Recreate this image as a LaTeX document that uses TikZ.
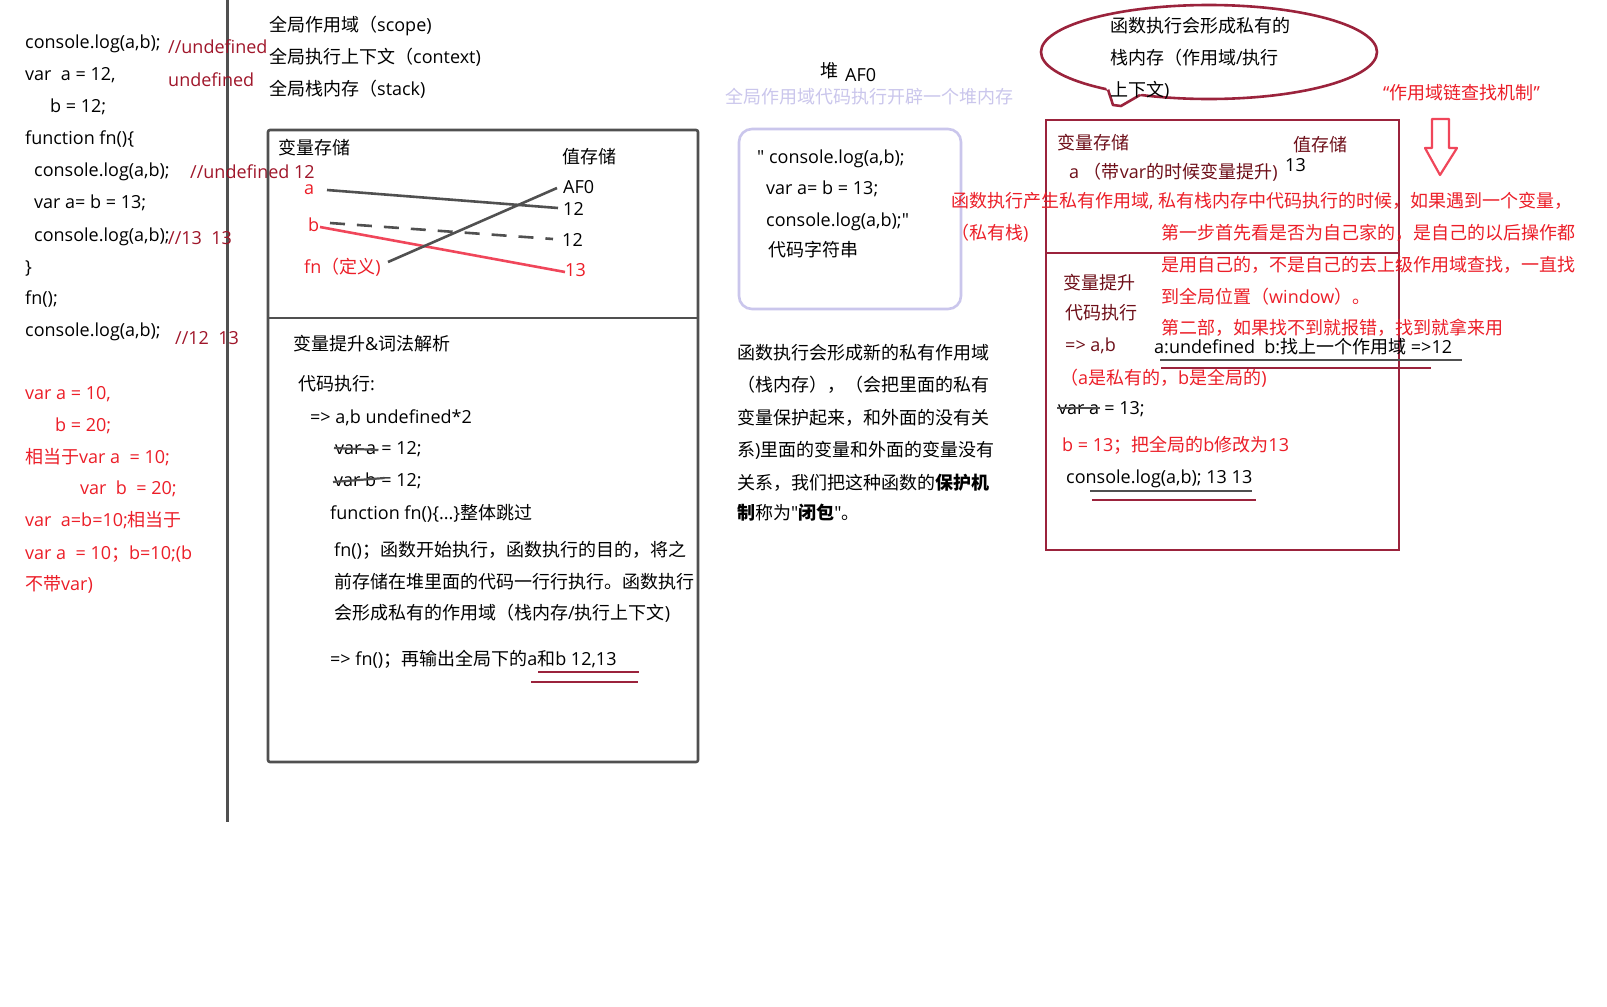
\documentclass[tikz,border=0pt]{standalone}
\usepackage{fontspec}
\setmainfont{Open Sans}[Ligatures=TeXOff]
\newfontfamily\cjkf{Noto Sans CJK SC}
\chardef\cjkcls=7
\newcount\mycnt
\def\setcls#1#2#3{\mycnt=#1 \loop \XeTeXcharclass\mycnt=#3 \advance\mycnt by 1 \ifnum\mycnt<#2 \repeat}
\setcls{32}{127}{0}
\setcls{"2010}{"2030}{0}
\setcls{"3000}{"3040}{\cjkcls}
\setcls{"4E00}{"A000}{\cjkcls}
\setcls{"FF00}{"FFF0}{\cjkcls}
\XeTeXinterchartoks 0 \cjkcls = {\cjkf}
\XeTeXinterchartoks 4095 \cjkcls = {\cjkf}
\XeTeXinterchartoks \cjkcls 0 = {\rmfamily}
\XeTeXinterchartoks \cjkcls 4095 = {\rmfamily}
\XeTeXinterchartokenstate=1
\newcommand\myfs{\fontsize{18}{22}\selectfont}
\newcommand\bcjk[1]{{\bfseries\cjkf #1}\cjkf}
\definecolor{mar}{RGB}{160,22,42}
\definecolor{rd}{RGB}{236,30,40}
\definecolor{dmar}{RGB}{110,15,25}
\definecolor{lav}{RGB}{202,198,236}
\definecolor{skg}{RGB}{80,80,80}
\definecolor{bmar}{RGB}{155,35,60}
\definecolor{pnk}{RGB}{240,70,90}
\tikzset{
 mytx/.style={anchor=west, inner sep=0pt, text height=16pt, text depth=3pt, font=\myfs},
 tblk/.style={mytx, text=black},
 tcmt/.style={mytx, text=mar},
 tred/.style={mytx, text=rd},
 tdm/.style={mytx, text=dmar},
 tlav/.style={mytx, text=lav},
 skline/.style={draw=skg, line width=2.6pt},
 mline/.style={draw=bmar, line width=2.6pt},
 strk/.style={draw=skg, line width=2.2pt},
 uline/.style={line width=2.2pt},
}
\begin{document}
\begin{tikzpicture}[x=1pt,y=-1pt]
\fill[white] (0,0) rectangle (1607,1007);
\useasboundingbox (0,0) rectangle (1607,1007);

% vertical separator
\draw[draw=skg, line width=3pt] (227,0) -- (227,822);

% ---------- left code ----------
\node[tblk] (c1) at (25,42) {console.log(a,b);};
\node[tblk] (c2) at (25,74) {var\ \ a = 12,};
\node[tblk] (c3) at (50,106) {b = 12;};
\node[tblk] (c4) at (25,138) {function fn()\{};
\node[tblk] (c5) at (34,170) {console.log(a,b);};
\node[tblk] (c6) at (34,202) {var a= b = 13;};
\node[tblk] (c7) at (34,235) {console.log(a,b);};
\node[tblk] (c8) at (25,267) {\}};
\node[tblk] (c9) at (25,298) {fn();};
\node[tblk] (c10) at (25,330) {console.log(a,b);};

\node[tcmt] (m1) at (168,47) {//undefined};
\node[tcmt] (m2) at (168,80) {undefined};
\node[tcmt] (m3) at (190,172) {//undefined 12};
\node[tcmt] (m4) at (168,238) {//13\ \ 13};
\node[tcmt] (m5) at (175,338) {//12\ \ 13};

\node[tred] (r1) at (25,393) {var a = 10,};
\node[tred] (r2) at (55,425) {b = 20;};
\node[tred] (r3) at (25,457) {相当于var a\ \ = 10;};
\node[tred] (r4) at (80,488) {var\ \ b\ \ = 20;};
\node[tred] (r5) at (25,520) {var\ \ a=b=10;相当于};
\node[tred] (r6) at (25,553) {var a\ \ = 10；b=10;(b};
\node[tred] (r7) at (25,584) {不带var)};

% ---------- global headers ----------
\node[tblk] (h1) at (269,25) {全局作用域（scope)};
\node[tblk] (h2) at (269,57) {全局执行上下文（context)};
\node[tblk] (h3) at (269,89) {全局栈内存（stack)};

% ---------- big box ----------
\draw[skline, rounded corners=2pt] (268,130) rectangle (698,762);
\draw[skline] (268,318) -- (698,318);

\node[tblk] (s1) at (278,148) {变量存储};
\node[tblk] (s2) at (562,157) {值存储};
\node[tred] (sa) at (304,188) {a};
\node[tred] (sb) at (308,225) {b};
\node[tred] (sfn) at (304,267) {fn（定义)};
\node[tblk] (v1) at (563,187) {AF0};
\node[tblk] (v2) at (563,209) {12};
\node[tblk] (v3) at (562,240) {12};
\node[tred] (v4) at (565,270) {13};

\draw[draw=skg, line width=2.6pt] (327,190) -- (558,208);
\draw[draw=skg, line width=2.6pt, dash pattern=on 15pt off 12pt] (330,223) -- (553,239);
\draw[draw=pnk, line width=2.6pt] (320,227) -- (565,272);
\draw[draw=skg, line width=2.6pt] (388,262) -- (557,188);

\node[tblk] (k1) at (293,344) {变量提升\&词法解析};
\node[tblk] (k2) at (298,384) {代码执行:};
\node[tblk] (k3) at (310,417) {=> a,b undefined*2};
\node[tblk] (k4a) at (335,448) {var a};
\node[tblk] (k4b) at (k4a.east) {\ = 12;};
\draw[strk] ([xshift=-1pt]k4a.west) -- ([xshift=2pt,yshift=-2pt]k4a.east);
\node[tblk] (k5a) at (334,480) {var b};
\node[tblk] (k5b) at (k5a.east) {\ = 12;};
\draw[strk] ([xshift=-1pt,yshift=-2pt]k5a.west) -- ([xshift=8pt,yshift=2pt]k5a.east);
\node[tblk] (k6) at (330,513) {function fn()\{...\}整体跳过};
\node[tblk] (k7) at (334,550) {fn()；函数开始执行，函数执行的目的，将之};
\node[tblk] (k8) at (334,582) {前存储在堆里面的代码一行行执行。函数执行};
\node[tblk] (k9) at (334,613) {会形成私有的作用域（栈内存/执行上下文)};
\node[tblk] (k10) at (330,659) {=> fn()；再输出全局下的a和b 12,13};
\draw[draw=bmar, uline] (538,672) -- (639,672);
\draw[draw=bmar, uline] (531,682) -- (638,682);

% ---------- heap ----------
\node[tblk] (hp1) at (820,71) {堆};
\node[tblk] (hp2) at (845,75) {AF0};
\node[tlav] (hp3) at (725,97) {全局作用域代码执行开辟一个堆内存};
\draw[draw=lav, line width=2.6pt, rounded corners=13pt] (739,129) rectangle (961,309);
\node[tblk] (q1) at (757,157) {" console.log(a,b);};
\node[tblk] (q2) at (766,188) {var a= b = 13;};
\node[tblk] (q3) at (766,220) {console.log(a,b);"};
\node[tblk] (q4) at (768,250) {代码字符串};

\node[tblk] (p1) at (737,353) {函数执行会形成新的私有作用域};
\node[tblk] (p2) at (737,385) {（栈内存），（会把里面的私有};
\node[tblk] (p3) at (737,418) {变量保护起来，和外面的没有关};
\node[tblk] (p4) at (737,450) {系)里面的变量和外面的变量没有};
\node[tblk] (p5) at (737,483) {关系，我们把这种函数的\bcjk{保护机}};
\node[tblk] (p6) at (737,513) {\bcjk{制}称为"\textbf{\cjkf 闭包}"\cjkf 。};

% ---------- bubble ----------
\draw[mline] (1209,52) ellipse [x radius=168, y radius=47];
\fill[white] (1104,82) -- (1113,105) -- (1121,106) -- (1146,91) -- cycle;
\draw[mline, line join=round] (1108,89.6) -- (1113,105) -- (1121,106) -- (1140,95);
\node[tblk] (b1) at (1110,26) {函数执行会形成私有的};
\node[tblk] (b2) at (1110,58) {栈内存（作用域/执行};
\node[tblk] (b3) at (1110,90) {上下文)};

\node[tred] (ch) at (1383,93) {“作用域链查找机制”};
\draw[draw=pnk, line width=2.2pt, line join=round] (1432,119) -- (1449,119) -- (1449,148) -- (1457,148) -- (1440,175) -- (1425,148) -- (1432,148) -- cycle;

% ---------- right box ----------
\draw[mline] (1046,120) rectangle (1399,550);
\draw[mline] (1046,253) -- (1399,253);
\node[tdm] (t1) at (1057,143) {变量存储};
\node[tdm] (t2) at (1293,145) {值存储};
\node[tdm] (t3) at (1069,172) {a （带var的时候变量提升)};
\node[tblk] (t4) at (1285,165) {13};

\node[tred] (e1) at (951,201) {函数执行产生私有作用域, 私有栈内存中代码执行的时候，如果遇到一个变量，};
\node[tred] (e2) at (951,233) {（私有栈)};
\node[tred] (e3) at (1161,233) {第一步首先看是否为自己家的，是自己的以后操作都};
\node[tred] (e4) at (1161,265) {是用自己的，不是自己的去上级作用域查找，一直找};
\node[tred] (e5) at (1161,297) {到全局位置（window）。};
\node[tred] (e6) at (1161,328) {第二部，如果找不到就报错，找到就拿来用};

\node[tdm] (u1) at (1063,283) {变量提升};
\node[tdm] (u2) at (1065,313) {代码执行};
\node[tdm] (u3) at (1065,345) {=> a,b};
\node[tblk] (u4) at (1154,347) {a:undefined\ \ b:找上一个作用域 =>12};
\draw[draw=skg, uline] (1160,360) -- (1462,360);
\draw[draw=bmar, uline] (1161,368) -- (1431,368);
\node[tred] (u5) at (1060,378) {（a是私有的，b是全局的)};
\node[tblk] (u6a) at (1058,408) {var a};
\node[tblk] (u6b) at (u6a.east) {\ = 13;};
\draw[strk] ([xshift=-1pt]u6a.west) -- ([xshift=1pt]u6a.east);
\node[tred] (u7) at (1062,445) {b = 13；把全局的b修改为13};
\node[tblk] (u8) at (1066,477) {console.log(a,b); 13 13};
\draw[draw=skg, uline] (1090,491) -- (1252,491);
\draw[draw=bmar, uline] (1092,500) -- (1256,500);
\end{tikzpicture}
\end{document}
